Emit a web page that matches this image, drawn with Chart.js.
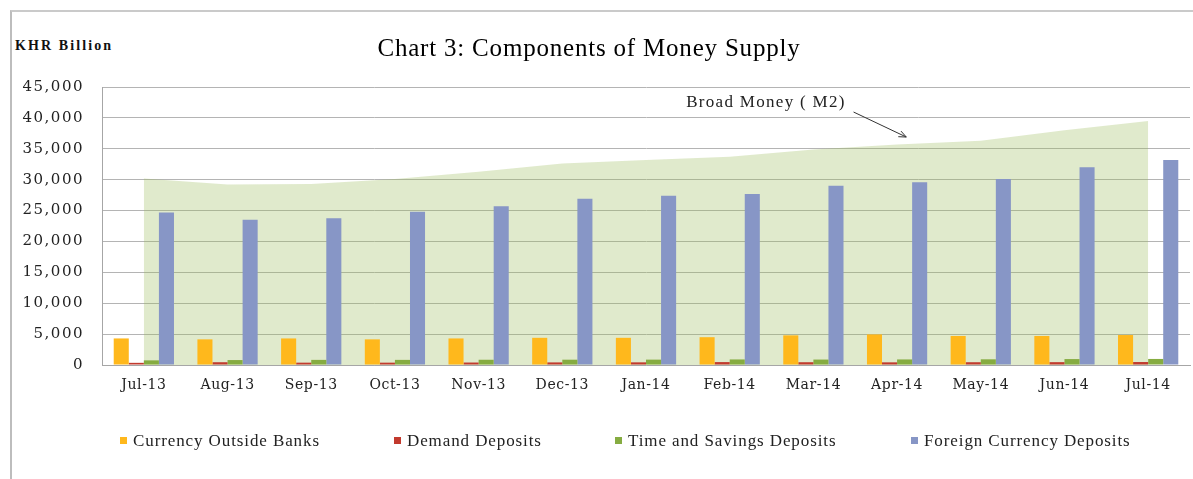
<!DOCTYPE html>
<html>
<head>
<meta charset="utf-8">
<script src="https://cdn.jsdelivr.net/npm/chart.js@4.4.1/dist/chart.umd.min.js"></script>
<style>
html,body{margin:0;padding:0;background:#fff;}
#wrap{position:relative;width:1193px;height:479px;overflow:hidden;background:#fff;}
#frame{position:absolute;left:10px;top:10px;width:1200px;height:480px;border-top:2px solid #cacaca;border-left:2px solid #bdbdbd;}
#unit{position:absolute;left:15px;top:37px;font:bold 14px "Liberation Serif";letter-spacing:2.1px;color:#111;line-height:17px;white-space:nowrap;}
#chart{position:absolute;left:0;top:0;}
.lg{position:absolute;top:431px;font:17px "Liberation Serif";letter-spacing:0.9px;color:#222;white-space:nowrap;line-height:19px;}
.lg i{position:absolute;left:0;top:6px;width:7px;height:7px;}
.lg span{padding-left:13px;}
</style>
</head>
<body>
<div id="wrap">
  <div id="frame"></div>
  <div id="unit">KHR Billion</div>
  <canvas id="chart" width="1193" height="479"></canvas>
  <div id="legend"></div>
</div>
<script>
// ---- data ----
const months = ['Jul-13','Aug-13','Sep-13','Oct-13','Nov-13','Dec-13','Jan-14','Feb-14','Mar-14','Apr-14','May-14','Jun-14','Jul-14'];
const currencyOutsideBanks = [4300, 4150, 4300, 4150, 4300, 4400, 4400, 4500, 4800, 4950, 4700, 4700, 4850];
const demandDeposits = [350, 450, 380, 380, 400, 420, 430, 470, 450, 430, 450, 460, 480];
const timeSavingsDeposits = [750, 800, 830, 830, 850, 860, 870, 900, 880, 900, 920, 960, 980];
const foreignCurrencyDeposits = [24700, 23500, 23750, 24800, 25700, 26900, 27400, 27700, 29000, 29600, 30100, 32000, 33200];
const broadMoneyM2 = [30200, 29200, 29300, 30100, 31300, 32600, 33200, 33700, 34900, 35700, 36300, 38000, 39500];
const yAxisMin = 0, yAxisMax = 45000, yAxisStep = 5000;

const seriesNames = ['Currency Outside Banks', 'Demand Deposits', 'Time and Savings Deposits', 'Foreign Currency Deposits'];
const areaName = 'Broad Money ( M2)';

// ---- styling / layout (not data) ----
const seriesColors = ['#FFB81C', '#C23A2E', '#86AC41', '#8796C6'];
const areaColor = 'rgba(155,187,89,0.31)';
const legendLeft = [120, 394, 615, 911];
const m2LabelAt = {index: 6.48, value: 42450};
const m2ArrowFrom = {index: 8.48, value: 40950};
const m2ArrowTo = {index: 9.11, value: 36900};

function spaced(obj, method, spacing, dx) {
  const key = '__spaced_' + method;
  if (!obj || obj[key]) return;
  const orig = obj[method];
  obj[method] = function () {
    const ctx = this.ctx;
    ctx.save();
    ctx.letterSpacing = spacing;
    if (dx) ctx.translate(dx, 0);
    try { return orig.apply(this, arguments); } finally { ctx.restore(); }
  };
  obj[key] = true;
}

const letterSpacingPlugin = {
  id: 'letterSpacing',
  beforeDraw(chart) {
    spaced(chart.scales.x, 'drawLabels', '0.6px');
    spaced(chart.scales.y, 'drawLabels', '1.5px');
    spaced(chart.titleBlock, 'draw', '0.8px', -6);
  }
};

const annotationPlugin = {
  id: 'm2Annotation',
  afterDraw(chart) {
    const ctx = chart.ctx, xs = chart.scales.x, ys = chart.scales.y;
    ctx.save();
    ctx.font = '17px "Liberation Serif"';
    ctx.letterSpacing = '1.3px';
    ctx.fillStyle = '#222';
    ctx.textAlign = 'left';
    ctx.textBaseline = 'middle';
    ctx.fillText(areaName, xs.getPixelForValue(m2LabelAt.index), ys.getPixelForValue(m2LabelAt.value));
    const x1 = xs.getPixelForValue(m2ArrowFrom.index), y1 = ys.getPixelForValue(m2ArrowFrom.value);
    const x2 = xs.getPixelForValue(m2ArrowTo.index), y2 = ys.getPixelForValue(m2ArrowTo.value);
    ctx.strokeStyle = '#333';
    ctx.lineWidth = 1;
    ctx.beginPath(); ctx.moveTo(x1, y1); ctx.lineTo(x2, y2); ctx.stroke();
    const a = Math.atan2(y2 - y1, x2 - x1), L = 8;
    ctx.beginPath();
    ctx.moveTo(x2 - L * Math.cos(a - 0.4), y2 - L * Math.sin(a - 0.4));
    ctx.lineTo(x2, y2);
    ctx.lineTo(x2 - L * Math.cos(a + 0.4), y2 - L * Math.sin(a + 0.4));
    ctx.stroke();
    ctx.restore();
  }
};

const seriesData = [currencyOutsideBanks, demandDeposits, timeSavingsDeposits, foreignCurrencyDeposits];
const datasets = seriesNames.map((name, i) => ({
  label: name, data: seriesData[i], backgroundColor: seriesColors[i], borderWidth: 0, order: 1
}));
datasets.push({
  type: 'line', label: areaName, data: broadMoneyM2, fill: 'origin',
  backgroundColor: areaColor, borderWidth: 0, borderColor: 'rgba(0,0,0,0)', pointRadius: 0, tension: 0, order: 2
});

const chart = new Chart(document.getElementById('chart'), {
  type: 'bar',
  data: { labels: months, datasets },
  options: {
    responsive: false,
    animation: false,
    layout: { padding: { left: 0, right: 3, top: 0, bottom: 0 } },
    datasets: { bar: { barPercentage: 1, categoryPercentage: 0.72 } },
    plugins: {
      legend: { display: false },
      tooltip: { enabled: false },
      title: {
        display: true, text: 'Chart 3: Components of Money Supply', color: '#000',
        font: { family: '"Liberation Serif"', size: 25, weight: 'normal' },
        padding: { top: 34, bottom: 23 }
      }
    },
    scales: {
      x: {
        grid: { display: false, drawTicks: false },
        border: { display: true, color: '#a6a6a6', width: 1 },
        ticks: { font: { family: '"DejaVu Serif"', size: 14 }, color: '#222', padding: 12, maxRotation: 0, autoSkip: false },
        afterFit(s) { s.height = 114; }
      },
      y: {
        min: yAxisMin, max: yAxisMax,
        ticks: { stepSize: yAxisStep, font: { family: '"DejaVu Serif"', size: 15 }, color: '#222', padding: 18,
                 callback: v => Number(v).toLocaleString('en-US') },
        grid: { color: '#b4b4b4', drawTicks: false },
        border: { display: true, color: '#a6a6a6' },
        afterFit(s) { s.width = 102; }
      }
    }
  },
  plugins: [letterSpacingPlugin, annotationPlugin]
});
chart.draw();

// HTML legend built from the datasets
const legendEl = document.getElementById('legend');
seriesNames.forEach((name, i) => {
  const item = document.createElement('div');
  item.className = 'lg';
  item.style.left = legendLeft[i] + 'px';
  const sw = document.createElement('i');
  sw.style.background = seriesColors[i];
  const tx = document.createElement('span');
  tx.textContent = name;
  item.appendChild(sw); item.appendChild(tx);
  legendEl.appendChild(item);
});
</script>
</body>
</html>
